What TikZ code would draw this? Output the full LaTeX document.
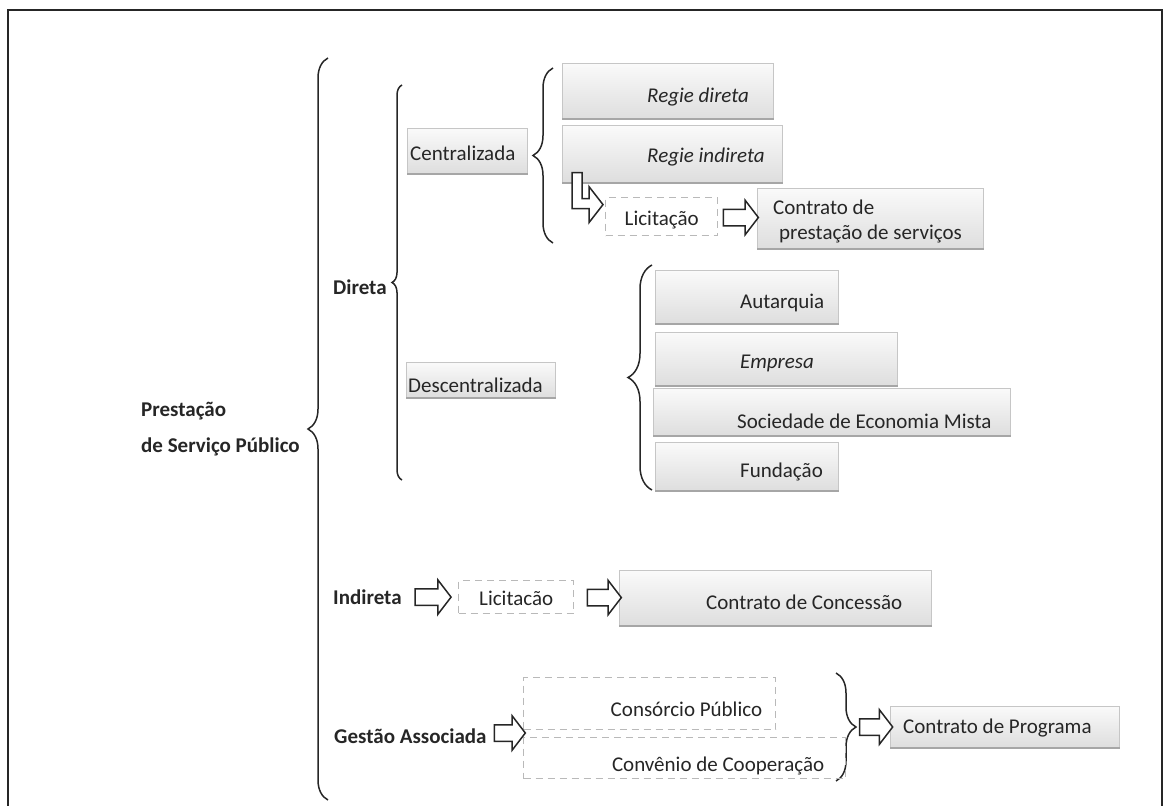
\documentclass[tikz,border=0pt]{standalone}
\usepackage{fontspec}
\setmainfont{Carlito}
\usetikzlibrary{shapes.arrows,decorations.pathreplacing,calc}
\definecolor{ink}{HTML}{262626}
\begin{document}
\begin{tikzpicture}[x=1pt,y=-1pt,
  every node/.style={font=\fontsize{21}{25}\selectfont, text=ink},
  lbl/.style={inner sep=0pt, anchor=west},
  rlbl/.style={inner sep=0pt, anchor=east},
  head/.style={lbl, font=\fontsize{21}{25}\selectfont\bfseries},
  gbox/.style={draw=gray!45, line width=0.6pt, top color=gray!4, bottom color=gray!26, inner sep=0pt, anchor=north west},
  dbox/.style={draw=gray!55, dash pattern=on 7pt off 5pt, line width=1.4pt, inner sep=0pt, anchor=north west},
  shadowline/.style={draw=gray!70, line width=2.2pt},
  brc/.style={draw=ink, line width=1.5pt, decorate, decoration={brace, amplitude=#1}},
  barrow/.style={single arrow, draw=ink, fill=white, line width=1.5pt, inner xsep=0pt, inner ysep=7.5pt,
    single arrow head extend=9pt, single arrow tip angle=105, minimum height=#1},
]
\useasboundingbox (0,0) rectangle (1168,806);

% outer frame, open at the bottom
\draw[ink, line width=1.8pt] (8,806) -- (8,10) -- (1162,10) -- (1162,806);

% root labels
\node[head] (prest) at (141,411) {Prestação};
\node[head] (serv) at (141,447) {de Serviço Público};
\node[head] (dir) at (333,287) {Direta};
\node[head] (ind) at (333,597) {Indireta};
\node[head] (ga) at (334,736) {Gestão Associada};

% braces
\draw[brc=20] (328,800) -- (328,58);
\draw[brc=10] (402,480) -- (402,85);
\draw[brc=20] (553,243) -- (553,68);
\draw[brc=24] (652,490) -- (652,265);
\draw[brc=20] (836,673) -- (836,781);
\coordinate (bt) at (856,727);

% shaded boxes
\node[gbox, minimum width=120, minimum height=45] (cen) at (407,128) {};
\node[gbox, minimum width=149, minimum height=35] (desc) at (406,362) {};
\node[gbox, minimum width=211, minimum height=55] (rd) at (562,63) {};
\node[gbox, minimum width=220, minimum height=57] (ri) at (562,125) {};
\node[gbox, minimum width=226, minimum height=60] (cps) at (757,188) {};
\node[gbox, minimum width=183, minimum height=53] (aut) at (655,270) {};
\node[gbox, minimum width=242, minimum height=53] (emp) at (655,332) {};
\node[gbox, minimum width=357, minimum height=47] (soc) at (653,388) {};
\node[gbox, minimum width=183, minimum height=48] (fun) at (655,442) {};
\node[gbox, minimum width=312, minimum height=55] (ccon) at (619,570) {};
\node[gbox, minimum width=229, minimum height=41] (cprog) at (890,706) {};
\foreach \b in {cen,desc,rd,ri,cps,aut,emp,soc,fun,ccon,cprog}
  \draw[shadowline] (\b.south west) -- (\b.south east);

% dashed boxes
\node[dbox, minimum width=112, minimum height=38] (lic1) at (605,197) {};
\node[dbox, minimum width=115, minimum height=33] (lic2) at (458,580) {};
\node[dbox, minimum width=252, minimum height=52] (cpub) at (523,677) {};
\node[dbox, minimum width=322, minimum height=41] (ccoop) at (523,737) {};

% box texts
\node[lbl] (tcen) at (410,153) {Centralizada};
\node[lbl] (tdesc) at (408,385) {Descentralizada};
\node[lbl] (trd) at (647,97) {\itshape Regie direta};
\node[lbl] (tri) at (647,157) {\itshape Regie indireta};
\node[lbl] (tcps1) at (773,207) {Contrato de};
\node[lbl] (tcps2) at (779,234) {prestação de serviços};
\node[lbl] (taut) at (740,303) {Autarquia};
\node[lbl] (temp) at (740,363) {\itshape Empresa};
\node[lbl] (tsoc) at (737,421) {Sociedade de Economia Mista};
\node[lbl] (tfun) at (740,472) {Fundação};
\node[lbl] (tccon) at (706,602) {Contrato de Concessão};
\node[lbl] (tcprog) at (903,728) {Contrato de Programa};
\node[inner sep=0pt] (tlic1) at ([yshift=-3]lic1.center) {Licitação};
\node[inner sep=0pt] (tlic2) at ([yshift=-1]lic2.center) {Licitacão};
\node[rlbl] (tcpub) at ([xshift=-14,yshift=21]cpub.south east) {Consórcio Público};
\node[rlbl] (tccoop) at ([xshift=-22,yshift=13]ccoop.south east) {Convênio de Cooperação};

% block arrows
\draw[ink, fill=white, line width=1.5pt, line join=miter]
  ([shift={(10,-10)}]ri.south west) -- ++(0,36) -- ++(17,0) -- ++(0,14) -- ++(14,-18)
  -- ++(-14,-18) -- ++(0,12) -- ++(-7,0) -- ++(0,-26) -- cycle;
\path (lic1.east) -- (cps.west) node[barrow=35, midway] (a1) {};
\path (ind.east) -- (lic2.west) node[barrow=36, midway] (a2) {};
\path (lic2.east) -- (ccon.west) node[barrow=34, pos=0.6] (a3) {};
\path ([yshift=3]ga.east) -- ([yshift=3]ga.east -| ccoop.west) node[barrow=31, pos=0.55] (a4) {};
\path (bt) -- (bt -| cprog.west) node[barrow=33, midway] (a5) {};
\end{tikzpicture}
\end{document}
